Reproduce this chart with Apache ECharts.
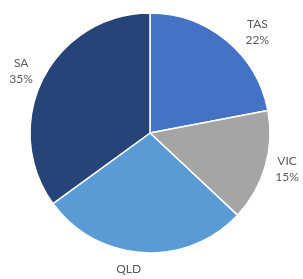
<!DOCTYPE html>
<html>
<head>
<meta charset="utf-8">
<script src="https://cdn.jsdelivr.net/npm/echarts@6/dist/echarts.min.js"></script>
<style>
  html, body { margin: 0; padding: 0; background: #fff; }
  #chart { width: 303px; height: 279px; }
</style>
</head>
<body>
<div id="chart"></div>
<script>
// data
const categories = ['TAS', 'VIC', 'QLD', 'SA'];
const shares = [22, 15, 28, 35];
const colors = ['#4472C4', '#A5A5A5', '#5B9BD5', '#264478'];
// small nudges so the labels sit where the original tool put them
const labelNudge = [[13, 13], [-5, -5], [-12, -4], [3, 5]];

const chart = echarts.init(document.getElementById('chart'));

chart.setOption({
  animation: false,
  series: [
    {
      // the slices
      type: 'pie',
      center: [150, 133],
      radius: 120,
      startAngle: 90,
      clockwise: true,
      silent: true,
      itemStyle: { borderColor: '#fff', borderWidth: 1.5 },
      label: { show: false },
      labelLine: { show: false },
      data: categories.map((name, i) => ({
        name: name,
        value: shares[i],
        itemStyle: { color: colors[i] }
      }))
    },
    {
      // invisible ring just carrying the labels outside the pie
      type: 'pie',
      center: [150, 133],
      radius: [140, 150],
      startAngle: 90,
      clockwise: true,
      silent: true,
      itemStyle: { color: 'rgba(0,0,0,0)' },
      label: {
        show: true,
        position: 'inside',
        formatter: '{b}\n{c}%',
        color: '#595959',
        fontFamily: 'Lato',
        fontSize: 12,
        lineHeight: 16,
        align: 'center'
      },
      labelLine: { show: false },
      data: categories.map((name, i) => ({
        name: name,
        value: shares[i],
        label: { offset: labelNudge[i] }
      }))
    }
  ]
});
</script>
</body>
</html>
